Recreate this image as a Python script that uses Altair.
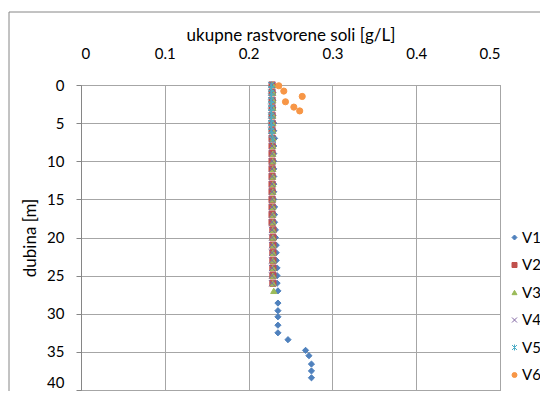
import altair as alt
import pandas as pd

series_names = ["V1", "V2", "V3", "V4", "V5", "V6"]
series_colors = ["#4F81BD", "#C0504D", "#9BBB59", "#8064A2", "#4BACC6", "#F79646"]
x_ticks = [0, 0.1, 0.2, 0.3, 0.4, 0.5]
y_ticks = [0, 5, 10, 15, 20, 25, 30, 35, 40]

v1_depth = [0, 1, 2, 3, 4, 5, 6, 7, 8, 9, 10, 11, 12, 13, 14, 15, 16, 17, 18, 19,
            20, 21, 22, 23, 24, 25, 26, 27, 28.6, 29.6, 30.4, 31.5, 32.5, 33.4,
            34.8, 35.5, 36.6, 37.5, 38.4]
v1_tds = [0.229, 0.229, 0.229, 0.229, 0.229, 0.230, 0.230, 0.231, 0.230, 0.230,
          0.230, 0.230, 0.230, 0.230, 0.230, 0.230, 0.231, 0.231, 0.231, 0.232,
          0.232, 0.233, 0.233, 0.233, 0.234, 0.234, 0.234, 0.235, 0.235, 0.235,
          0.235, 0.235, 0.235, 0.247, 0.268, 0.272, 0.275, 0.275, 0.275]

v2_depth = [0, 1, 2, 3, 4, 5, 6, 7, 8, 9, 10, 11, 12, 13, 14, 15, 16, 17, 18, 19,
            20, 21, 22, 23, 24, 25, 26]
v2_tds = [0.228, 0.228, 0.228, 0.228, 0.228, 0.228, 0.228, 0.228, 0.228, 0.228,
          0.228, 0.228, 0.228, 0.228, 0.228, 0.228, 0.228, 0.228, 0.228, 0.229,
          0.229, 0.229, 0.229, 0.229, 0.229, 0.229, 0.229]

v3_depth = [0, 1, 2, 3, 4, 5, 6, 7, 8, 9, 10, 11, 12, 13, 14, 15, 16, 17, 18, 19,
            20, 21, 22, 23, 24, 25, 26, 27]
v3_tds = [0.229, 0.229, 0.229, 0.229, 0.229, 0.229, 0.229, 0.229, 0.229, 0.229,
          0.229, 0.229, 0.229, 0.229, 0.229, 0.229, 0.229, 0.229, 0.229, 0.229,
          0.229, 0.229, 0.229, 0.229, 0.229, 0.229, 0.229, 0.230]

v4_depth = [0, 1, 2, 3, 4, 5, 6, 7, 8, 9, 10, 11, 12, 13, 14, 15, 16, 17, 18, 19,
            20, 21, 22, 23, 24, 25, 26]
v4_tds = [0.228, 0.228, 0.228, 0.228, 0.228, 0.228, 0.228, 0.228, 0.228, 0.228,
          0.228, 0.228, 0.228, 0.228, 0.228, 0.228, 0.228, 0.228, 0.228, 0.228,
          0.228, 0.228, 0.228, 0.228, 0.228, 0.228, 0.228]

v5_depth = [0, 0.5, 1, 1.5, 2, 2.5, 3, 3.5, 4, 4.5, 5, 5.5, 6, 6.5, 7.2]
v5_tds = [0.227, 0.227, 0.227, 0.227, 0.227, 0.227, 0.227, 0.227, 0.227, 0.227,
          0.227, 0.227, 0.227, 0.228, 0.229]

v6_depth = [0.1, 0.8, 1.5, 2.2, 2.9, 3.4]
v6_tds = [0.236, 0.242, 0.264, 0.244, 0.254, 0.261]

series_data = [(v1_depth, v1_tds), (v2_depth, v2_tds), (v3_depth, v3_tds),
               (v4_depth, v4_tds), (v5_depth, v5_tds), (v6_depth, v6_tds)]

rows = []
for name, (depths, vals) in zip(series_names, series_data):
    for d, v in zip(depths, vals):
        rows.append({"series": name, "depth": d, "tds": v})
df = pd.DataFrame(rows)

x_path = "M-1,-1L1,1M1,-1L-1,1"
star_path = "M-1,-1L1,1M1,-1L-1,1M0,-1.2L0,1.2"
shapes = ["diamond", "square", "triangle-up", x_path, star_path, "circle"]

FONT = "Lato"


def make_legend():
    return alt.Legend(title=None, orient="none", legendX=426, legendY=145,
                      padding=0, symbolSize=25, symbolStrokeWidth=1,
                      labelOffset=0, rowPadding=11.5, labelFontSize=15,
                      labelFont=FONT, labelColor="#000")


frame = alt.Chart(pd.DataFrame({"a": [0]})).mark_rect(
    fill="transparent", stroke="#868686", strokeWidth=1
).encode(
    x=alt.value(-72), x2=alt.value(700), y=alt.value(-73), y2=alt.value(500)
)

points = alt.Chart(df).mark_point(
    filled=True, size=38, strokeWidth=1, opacity=1
).encode(
    x=alt.X("tds:Q",
            scale=alt.Scale(domain=[0, 0.5], nice=False, zero=True),
            axis=alt.Axis(orient="top", values=x_ticks, format="~g",
                          title="ukupne rastvorene soli [g/L]",
                          domain=False, ticks=False, labelPadding=24,
                          titlePadding=2)),
    y=alt.Y("depth:Q",
            scale=alt.Scale(domain=[0, 40], reverse=True, nice=False),
            axis=alt.Axis(values=y_ticks, format="d", title="dubina [m]",
                          domain=True, domainColor="#868686", ticks=True,
                          tickSize=5, tickColor="#868686", labelPadding=12,
                          labelBaseline={"condition": {"test": "datum.value == 40",
                                                       "value": "bottom"},
                                         "value": "middle"},
                          titlePadding=7)),
    color=alt.Color("series:N",
                    scale=alt.Scale(domain=series_names, range=series_colors),
                    legend=make_legend()),
    stroke=alt.Stroke("series:N",
                      scale=alt.Scale(domain=series_names, range=series_colors),
                      legend=make_legend()),
    shape=alt.Shape("series:N",
                    scale=alt.Scale(domain=series_names, range=shapes),
                    legend=make_legend()),
)

chart = alt.layer(frame, points).properties(
    width=419, height=305,
    autosize=alt.AutoSizeParams(type="none"),
    padding={"left": 73, "top": 77, "right": 40, "bottom": 1},
    background="white",
).configure_view(
    stroke="#868686", strokeWidth=1
).configure_axis(
    grid=True, gridColor="#a6a6a6", gridWidth=1,
    labelFont=FONT, labelFontSize=15, labelColor="#000",
    titleFont=FONT, titleFontSize=17, titleFontWeight="normal", titleColor="#000",
)

chart.save("out.html", embed_options={"renderer": "svg", "actions": False})
